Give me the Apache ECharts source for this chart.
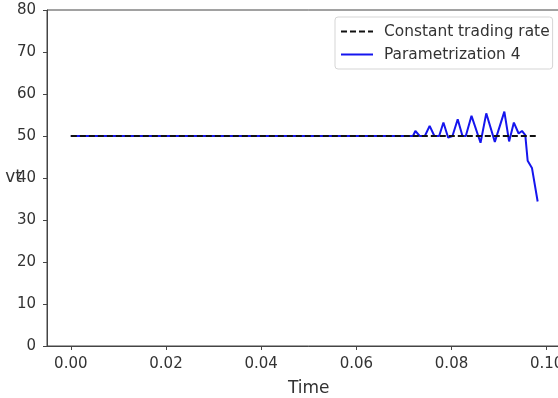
<!DOCTYPE html>
<html>
<head>
<meta charset="utf-8">
<script src="https://cdn.jsdelivr.net/npm/echarts@6/dist/echarts.min.js"></script>
<style>html,body{margin:0;padding:0;background:#fff;overflow:hidden;width:558px;height:398px;}#c{width:580px;height:398px;}</style>
</head>
<body>
<div id="c"></div>
<script>
// Data
const xTicks = [0, 0.02, 0.04, 0.06, 0.08, 0.10];
const constTime = [0, 0.0977];
const constVt = [50, 50];
const paramTime = [0, 0.0719, 0.0724, 0.0733, 0.0744, 0.0754, 0.0764, 0.0774, 0.0783, 0.0793, 0.0802, 0.0813, 0.0823, 0.0830, 0.0842, 0.0861, 0.0873, 0.0891, 0.0911, 0.0921, 0.0931, 0.0941, 0.0948, 0.0955, 0.0960, 0.0969, 0.0981];
const paramVt = [50, 50, 51.2, 50, 50, 52.4, 50, 50, 53.2, 49.6, 50, 54.0, 50, 50, 54.8, 48.4, 55.4, 48.6, 55.8, 48.7, 53.2, 50.6, 51.2, 50.2, 44.1, 42.4, 34.4];

const zip = (a, b) => a.map((v, i) => [v, b[i]]);
const font = 'DejaVu Sans';
const txt = '#333';
const axisCol = '#444';

const chart = echarts.init(document.getElementById('c'), null, {renderer: 'canvas'});
chart.setOption({
  animation: false,
  backgroundColor: '#fff',
  grid: {left: 47, top: 10, right: 9.5, bottom: 52, show: true, borderColor: axisCol, borderWidth: 1,
         containLabel: false, outerBoundsMode: 'none'},
  legend: {
    orient: 'vertical', left: 335, top: 17,
    padding: [7, 3, 7, 5],
    itemWidth: 32, itemHeight: 14, itemGap: 8,
    itemStyle: {opacity: 0},
    borderColor: '#d5d5d5', borderWidth: 1, borderRadius: 3, backgroundColor: '#fff',
    textStyle: {fontFamily: font, fontSize: 15.4, color: txt, padding: [0, 0, 0, 6]},
    data: ['Constant trading rate', 'Parametrization 4']
  },
  xAxis: {
    type: 'value', min: -0.005, max: 0.105,
    name: 'Time', nameLocation: 'middle', nameGap: 34, nameMoveOverlap: false,
    nameTextStyle: {fontFamily: font, fontSize: 17, color: txt},
    axisLine: {show: true, onZero: false, lineStyle: {color: axisCol, width: 1}},
    axisTick: {show: true, length: 4, customValues: xTicks, lineStyle: {color: axisCol}},
    axisLabel: {customValues: xTicks, margin: 11, fontFamily: font, fontSize: 15, color: txt,
      formatter: v => v.toFixed(2)},
    splitLine: {show: false}
  },
  yAxis: {
    type: 'value', min: 0, max: 80, interval: 10,
    name: 'vt', nameLocation: 'middle', nameGap: 25, nameRotate: 0, nameMoveOverlap: false,
    nameTextStyle: {fontFamily: font, fontSize: 17, color: txt, align: 'right', verticalAlign: 'middle'},
    axisLine: {show: true, onZero: false, lineStyle: {color: axisCol, width: 1}},
    axisTick: {show: true, length: 4, lineStyle: {color: axisCol}},
    axisLabel: {margin: 11, fontFamily: font, fontSize: 15, color: txt},
    splitLine: {show: false}
  },
  series: [
    {name: 'Constant trading rate', type: 'line', data: zip(constTime, constVt), symbol: 'none',
     lineStyle: {color: '#111', width: 2, type: [6, 3]}, itemStyle: {color: '#111'}, z: 3},
    {name: 'Parametrization 4', type: 'line', data: zip(paramTime, paramVt), symbol: 'none',
     lineStyle: {color: '#1515ee', width: 2}, itemStyle: {color: '#1515ee'}, z: 2}
  ]
});
</script>
</body>
</html>
